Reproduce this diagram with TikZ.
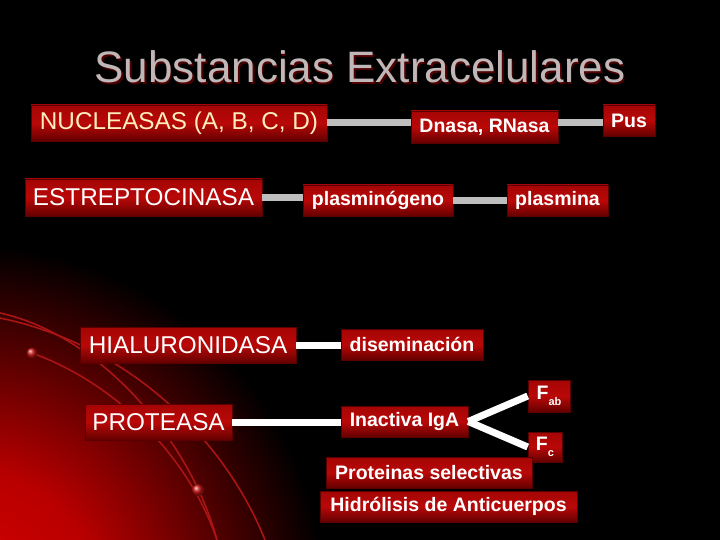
\documentclass[tikz,border=0pt]{standalone}
\usepackage{fontspec}
\setmainfont{Liberation Sans}
\usetikzlibrary{calc}
\definecolor{glowA}{RGB}{215,0,0}
\definecolor{glowB}{RGB}{185,0,0}
\definecolor{glowC}{RGB}{80,0,0}
\definecolor{boxtop}{RGB}{165,5,5}
\definecolor{boxmid}{RGB}{185,8,8}
\definecolor{boxbot}{RGB}{100,0,0}
\definecolor{boxedge}{RGB}{90,0,0}
\definecolor{cream}{RGB}{255,238,190}
\definecolor{titlegray}{RGB}{192,184,184}
\definecolor{titleshade}{RGB}{80,0,0}
\definecolor{arcred}{RGB}{170,20,20}
\definecolor{dotred}{RGB}{200,20,20}
\definecolor{linegray}{RGB}{190,190,190}
\pgfdeclareradialshading{redglow}{\pgfpoint{0bp}{0bp}}{color(0bp)=(glowA); color(9bp)=(glowB); color(18bp)=(glowC); color(25bp)=(black); color(50bp)=(black)}
\tikzset{
  rbox/.style={rectangle, inner sep=0pt, top color=boxtop, bottom color=boxbot, middle color=boxmid, draw=boxedge, line width=0.6pt, text=white},
  bigtxt/.style={font=\fontsize{24.3}{24}\selectfont},
  boldtxt/.style={font=\bfseries\fontsize{19.5}{20}\selectfont},
  gline/.style={draw=linegray, line width=7pt},
  wline/.style={draw=white, line width=7pt},
  arcline/.style={draw=arcred, line width=1.6pt}
}
\begin{document}
\begin{tikzpicture}[x=1pt,y=-1pt]
\useasboundingbox (0,0) rectangle (720,540);
\fill[black] (0,0) rectangle (720,540);
\begin{scope}
\clip (0,0) rectangle (720,540);
\shade[shading=redglow] (-30,600) circle (355pt);
\draw[arcline] (0,313) .. controls (100,335) and (190,440) .. (217,540);
\draw[arcline] (0,318) .. controls (130,345) and (225,440) .. (265,540);
\draw[arcline] (32,353) .. controls (120,385) and (190,460) .. (217,540);
\shade[ball color=dotred] (32,353) circle (5.5pt);
\shade[ball color=dotred] (198,490) circle (6pt);
\end{scope}

\node[font=\fontsize{44}{44}\selectfont, text=titleshade] (titleshadow) at (361.5,68.5) {Substancias Extracelulares};
\node[font=\fontsize{44}{44}\selectfont, text=titlegray] (title) at (360,67) {Substancias Extracelulares};

\node[rbox, bigtxt, text=cream, minimum width=296pt, minimum height=36pt] (nuc) at (179,123) {NUCLEASAS (A, B, C, D)};
\node[rbox, boldtxt, minimum width=147pt, minimum height=32pt] (dna) at (484.5,127) {Dnasa, RNasa};
\node[rbox, boldtxt, minimum width=52pt, minimum height=31pt] (pus) at (629,120.5) {Pus};
\node[rbox, bigtxt, minimum width=237pt, minimum height=37pt] (est) at (143.5,197.5) {ESTREPTOCINASA};
\node[rbox, boldtxt, minimum width=150pt, minimum height=31pt] (plg) at (378,200.5) {plasminógeno};
\node[rbox, boldtxt, minimum width=101pt, minimum height=31pt] (pla) at (557.5,200.5) {plasmina};
\node[rbox, bigtxt, minimum width=216pt, minimum height=36pt] (hia) at (188,345) {HIALURONIDASA};
\node[rbox, boldtxt, minimum width=142pt, minimum height=31pt] (dis) at (412,344.5) {diseminación};
\node[rbox, bigtxt, minimum width=147pt, minimum height=36pt] (pro) at (158.5,422) {PROTEASA};
\node[rbox, boldtxt, minimum width=127pt, minimum height=31pt] (iga) at (404.5,421.5) {Inactiva IgA};
\node[rbox, boldtxt, minimum width=42pt, minimum height=32pt] (fab) at (549,396) {F{\fontsize{11}{11}\selectfont\raisebox{-6pt}{ab}}};
\node[rbox, boldtxt, minimum width=34pt, minimum height=30pt] (fc) at (545,447) {F{\fontsize{11}{11}\selectfont\raisebox{-6pt}{c}}};
\node[rbox, boldtxt, minimum width=206pt, minimum height=31pt] (psel) at (429,472.5) {Proteinas selectivas};
\node[rbox, boldtxt, minimum width=257pt, minimum height=31pt] (hid) at (448.5,506.5) {Hidrólisis de Anticuerpos};

\draw[gline] (nuc.east) -- (nuc.east -| dna.west);
\draw[gline] (dna.east |- nuc.east) -- (pus.west |- nuc.east);
\draw[gline] (est.east) -- (est.east -| plg.west);
\draw[gline] (plg.east) -- (pla.west);
\draw[wline] (hia.east) -- (hia.east -| dis.west);
\draw[wline] (pro.east) -- (pro.east -| iga.west);
\draw[wline] (iga.east) -- (fab.west);
\draw[wline] (iga.east) -- (fc.west);
\end{tikzpicture}
\end{document}
